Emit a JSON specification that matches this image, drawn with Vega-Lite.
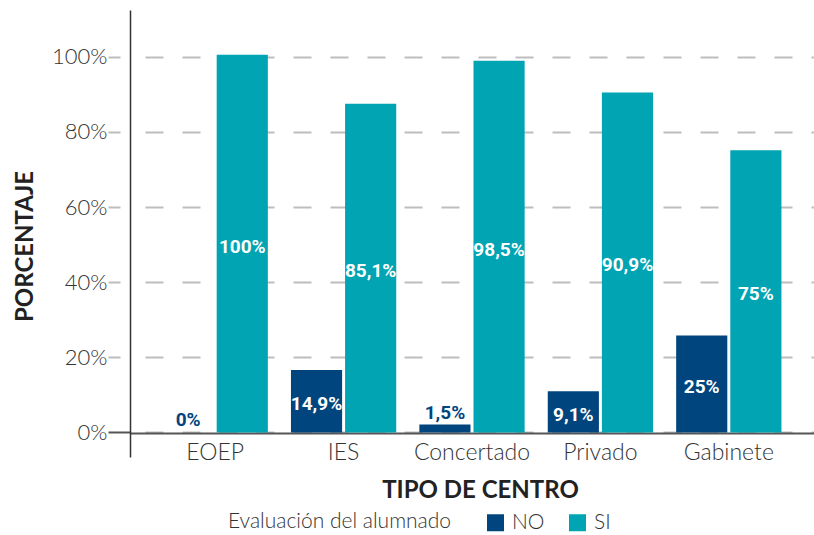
{
  "$schema": "https://vega.github.io/schema/vega-lite/v6.json",
  "width": 684,
  "height": 447,
  "autosize": "none",
  "padding": {"left": 130, "top": 10, "right": 0, "bottom": 78},
  "background": "white",
  "config": {"view": {"stroke": null}, "font": "Lato"},
  "data": {
    "values": [
      {"centro": "EOEP", "serie": "NO", "v": 0, "label": "0%"},
      {"centro": "EOEP", "serie": "SI", "v": 100.5, "label": "100%"},
      {"centro": "IES", "serie": "NO", "v": 16.6, "label": "14,9%"},
      {"centro": "IES", "serie": "SI", "v": 87.5, "label": "85,1%"},
      {"centro": "Concertado", "serie": "NO", "v": 2.1, "label": "1,5%"},
      {"centro": "Concertado", "serie": "SI", "v": 98.9, "label": "98,5%"},
      {"centro": "Privado", "serie": "NO", "v": 11.0, "label": "9,1%"},
      {"centro": "Privado", "serie": "SI", "v": 90.5, "label": "90,9%"},
      {"centro": "Gabinete", "serie": "NO", "v": 25.8, "label": "25%"},
      {"centro": "Gabinete", "serie": "SI", "v": 75.1, "label": "75%"}
    ]
  },
  "encoding": {
    "x": {
      "field": "centro",
      "type": "nominal",
      "sort": null,
      "scale": {"paddingInner": 0.18, "paddingOuter": 0.2535},
      "axis": {
        "title": "TIPO DE CENTRO",
        "titleFont": "Lato",
        "titleFontWeight": "bold",
        "titleFontSize": 24,
        "titleColor": "#222222",
        "titleX": 350,
        "titleY": 57,
        "titleAlign": "center",
        "titleBaseline": "middle",
        "labelAngle": 0,
        "labelFont": "Lato",
        "labelFontWeight": 300,
        "labelFontSize": 23,
        "labelColor": "#333333",
        "labelPadding": 8,
        "labelBaseline": "top",
        "ticks": false,
        "domain": true,
        "domainColor": "#555555",
        "domainWidth": 2,
        "offset": -24
      }
    },
    "xOffset": {
      "field": "serie",
      "type": "nominal",
      "sort": ["NO", "SI"],
      "scale": {"paddingInner": 0.055, "paddingOuter": 0}
    }
  },
  "layer": [
    {
      "mark": {"type": "bar"},
      "encoding": {
        "y": {
          "field": "v",
          "type": "quantitative",
          "scale": {"domain": [-6.52, 112.43], "nice": false, "zero": false},
          "axis": {
            "title": "PORCENTAJE",
            "titleFont": "Lato",
            "titleFontWeight": "bold",
            "titleFontSize": 24,
            "titleColor": "#222222",
            "titleAngle": -90,
            "titleX": -105,
            "titleY": 236,
            "titleAlign": "center",
            "titleBaseline": "middle",
            "values": [0, 20, 40, 60, 80, 100],
            "labelExpr": "datum.value + '%'",
            "labelFont": "Lato",
            "labelFontWeight": 300,
            "labelFontSize": 22,
            "labelColor": "#333333",
            "labelPadding": 1,
            "tickSize": 22,
            "tickWidth": 2,
            "tickColor": {"condition": {"test": "datum.value === 0", "value": "#555555"}, "value": "#BDBDBD"},
            "tickDash": {"condition": {"test": "datum.value === 0", "value": []}, "value": [12, 10]},
            "tickDashOffset": {"condition": {"test": "datum.value === 0", "value": 0}, "value": 12},
            "grid": true,
            "gridColor": "#BDBDBD",
            "gridWidth": 2,
            "gridDash": [18, 19],
            "gridDashOffset": 22,
            "domain": true,
            "domainColor": "#333333",
            "domainWidth": 1.5
          }
        },
        "color": {
          "field": "serie",
          "type": "nominal",
          "scale": {"domain": ["NO", "SI"], "range": ["#01457E", "#00A4B3"]},
          "legend": {
            "title": "Evaluación del alumnado",
            "orient": "none",
            "direction": "horizontal",
            "legendX": 98,
            "legendY": 502,
            "titleOrient": "left",
            "titleFont": "Lato",
            "titleFontWeight": 300,
            "titleFontSize": 21,
            "titleColor": "#333333",
            "titlePadding": 33,
            "titleLimit": 500,
            "titleBaseline": "middle",
            "labelFont": "Lato",
            "labelFontWeight": 300,
            "labelFontSize": 21,
            "labelColor": "#333333",
            "labelOffset": 6,
            "symbolType": "square",
            "symbolSize": 289,
            "symbolStrokeWidth": 0,
            "symbolOpacity": 1,
            "columnPadding": 22
          }
        }
      }
    },
    {
      "transform": [
        {"filter": "datum.v >= 5"},
        {"calculate": "datum.v / 2", "as": "mid"}
      ],
      "mark": {
        "type": "text",
        "font": "Roboto",
        "fontWeight": "bold",
        "fontSize": 19,
        "color": "white",
        "baseline": "middle",
        "dy": 3
      },
      "encoding": {
        "y": {"field": "mid", "type": "quantitative"},
        "text": {"field": "label"}
      }
    },
    {
      "transform": [{"filter": "datum.v < 5"}],
      "mark": {
        "type": "text",
        "font": "Roboto",
        "fontWeight": "bold",
        "fontSize": 19,
        "color": "#01457E",
        "baseline": "bottom",
        "dy": -2
      },
      "encoding": {
        "y": {"field": "v", "type": "quantitative"},
        "text": {"field": "label"}
      }
    }
  ]
}
